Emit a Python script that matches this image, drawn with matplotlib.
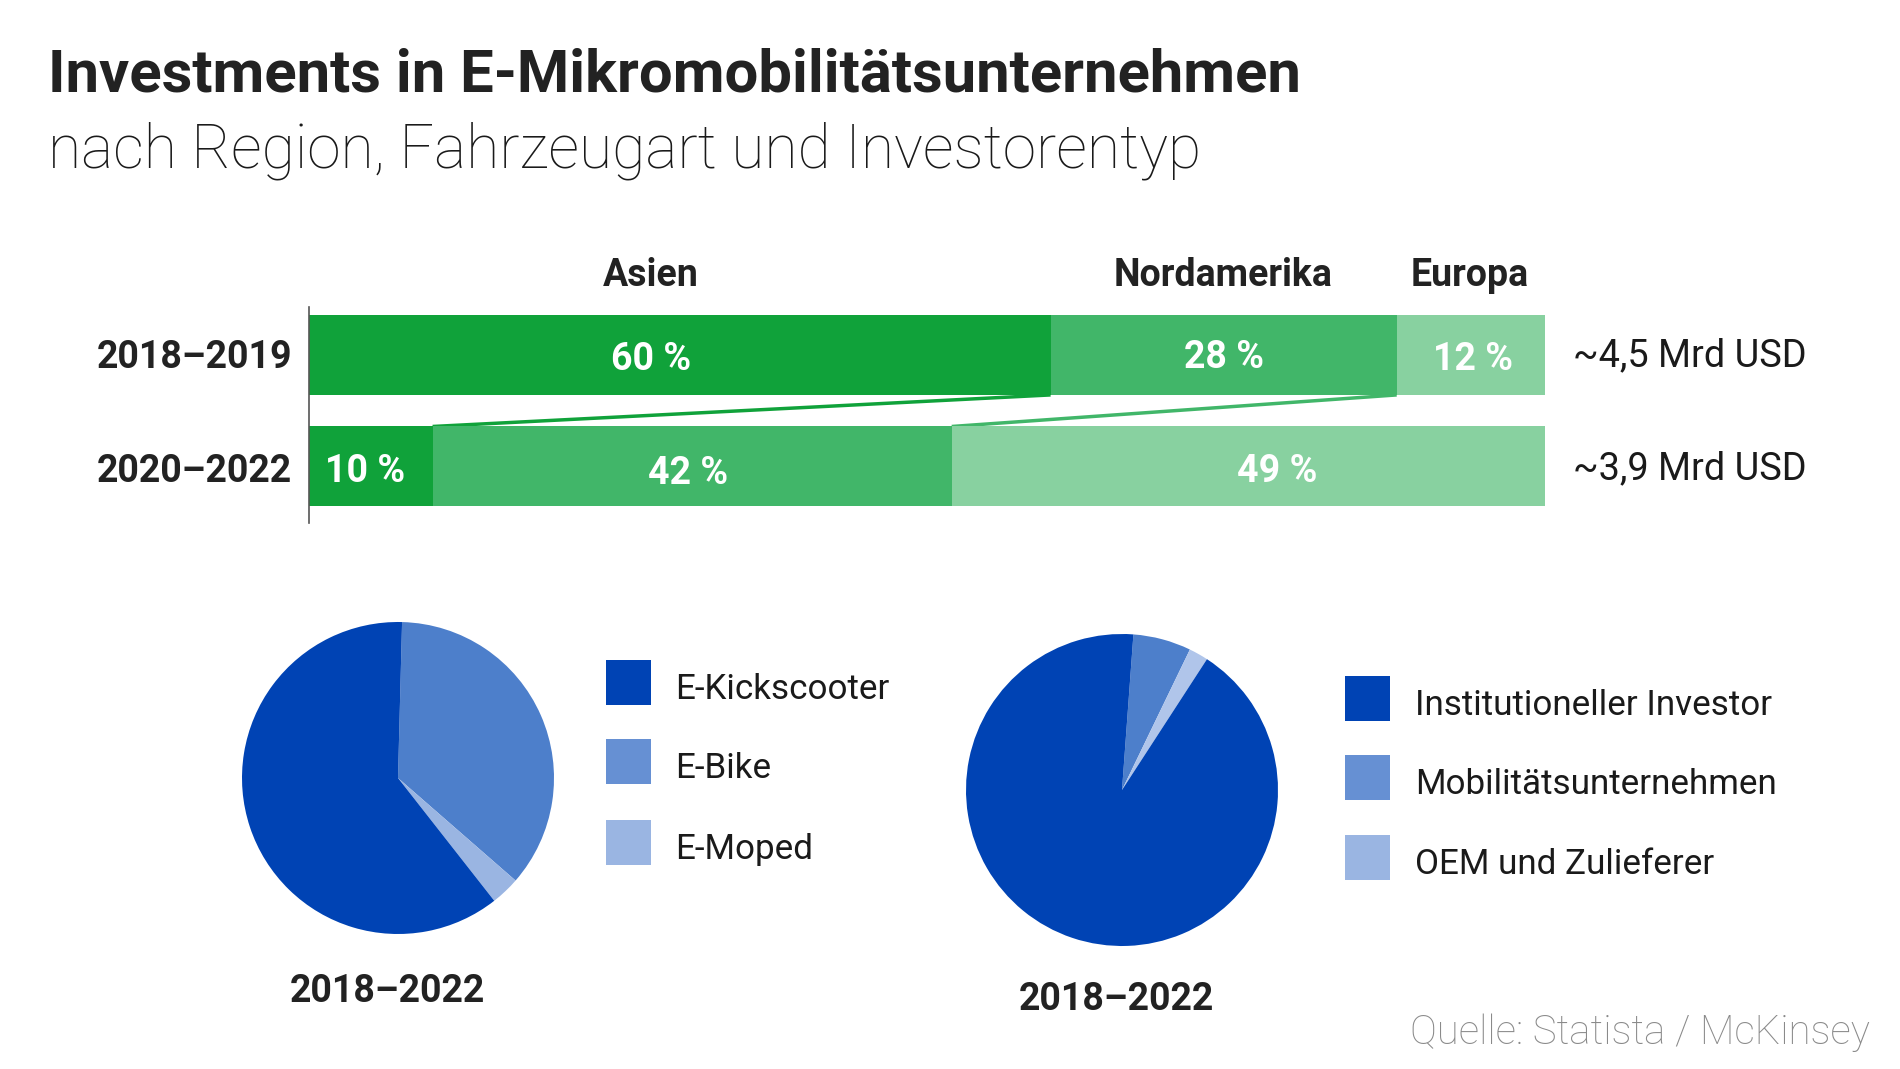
import matplotlib
matplotlib.use("Agg")
import matplotlib.pyplot as plt
from matplotlib.patches import Rectangle

# ---------------- data ----------------
periods = ["2018–2019", "2020–2022"]
regions = ["Asien", "Nordamerika", "Europa"]
region_shares = {
    "2018–2019": [60, 28, 12],
    "2020–2022": [10, 42, 49],
}
totals = ["~4,5 Mrd USD", "~3,9 Mrd USD"]

vehicle_types = ["E-Kickscooter", "E-Bike", "E-Moped"]
vehicle_shares = [61, 36, 3]

investor_types = ["Institutioneller Investor", "Mobilitätsunternehmen", "OEM und Zulieferer"]
investor_shares = [92, 6, 2]

pie_period = "2018–2022"
source = "Quelle: Statista / McKinsey"
title = "Investments in E-Mikromobilitätsunternehmen"
subtitle = "nach Region, Fahrzeugart und Investorentyp"

# ---------------- style ----------------
W, H = 1900, 1069
greens = ["#10a23a", "#41b669", "#88d1a0"]
blues = ["#0043b4", "#4d7fcb", "#9ab5e2"]
blues_legend = ["#0043b4", "#6690d3", "#9ab5e2"]
dark = "#222222"
FONT = "Roboto"

fig = plt.figure(figsize=(W / 100, H / 100), dpi=100)
fig.patch.set_facecolor("white")


def fx(x):
    return x / W


def fy(y):
    return 1 - y / H


def ftext(x, y, s, **kw):
    kw.setdefault("family", FONT)
    kw.setdefault("color", dark)
    fig.text(fx(x), fy(y), s, **kw)


# titles
ftext(48, 92, title, fontsize=43, weight="bold", va="baseline", ha="left")
ftext(48, 167, subtitle, fontsize=43.6, weight="light", va="baseline", ha="left", color="#1a1a1a")

# ---------------- stacked bars ----------------
ax_top, ax_bot, ax_left, ax_right = 307, 523, 309, 1545
ax = fig.add_axes([fx(ax_left), fy(ax_bot), (ax_right - ax_left) / W, (ax_bot - ax_top) / H])
ax.set_xlim(0, 100)
ax.set_ylim(1.507, -0.43)
bar_h = 0.717
for i, p in enumerate(periods):
    left = 0
    for j, v in enumerate(region_shares[p]):
        ax.barh(i, v, left=left, height=bar_h, color=greens[j], edgecolor="none", zorder=2)
        left += v

# connecting lines between region boundaries
for j in range(2):
    x0 = sum(region_shares[periods[0]][: j + 1])
    x1 = sum(region_shares[periods[1]][: j + 1])
    ax.plot([x0, x1], [0 + bar_h / 2, 1 - bar_h / 2], color=greens[j], lw=2.5,
            solid_capstyle="butt", zorder=1)

for s in ["top", "right", "bottom"]:
    ax.spines[s].set_visible(False)
ax.spines["left"].set_color("#555555")
ax.spines["left"].set_linewidth(1.2)
ax.set_xticks([])
ax.set_yticks([])
ax.patch.set_alpha(0)

# percentage labels (x offsets in pixel from segment center)
label_offsets = {
    "2018–2019": [-29, 0, 2],
    "2020–2022": [-6, -4, 29],
}
label_dy = {
    "2018–2019": [4, 3, 4],
    "2020–2022": [3, 6, 3],
}
x_scale = (ax_right - ax_left) / 100
bar_y_px = [355, 468]
for i, p in enumerate(periods):
    left = 0
    for j, v in enumerate(region_shares[p]):
        c = left + min(v, 100 - left) / 2
        px = ax_left + c * x_scale + label_offsets[p][j]
        ftext(px, bar_y_px[i] + label_dy[p][j], f"{v} %", fontsize=27, weight="bold",
              color="white", ha="center", va="center")
        left += v
    ftext(292, bar_y_px[i] + 3, p, fontsize=27, weight="bold", ha="right", va="center")
    ftext(1573, bar_y_px[i] + 1, totals[i], fontsize=27.3, ha="left", va="center", color="#1a1a1a")

# region headers
header_px = [651, 1223, 1470]
for r, hx in zip(regions, header_px):
    ftext(hx, 286, r, fontsize=27, weight="bold", ha="center", va="baseline")

# ---------------- pies ----------------
def draw_pie(cx, cy, r, values, colors, startangle):
    a = fig.add_axes([fx(cx - r), fy(cy + r), 2 * r / W, 2 * r / H])
    a.pie(values, colors=colors, startangle=startangle, counterclock=False, radius=1,
          wedgeprops=dict(edgecolor="none"))
    a.set_xlim(-1, 1)
    a.set_ylim(-1, 1)
    a.set_aspect("equal")
    a.axis("off")


# pie 1: clockwise from top: E-Bike, E-Moped, E-Kickscooter
draw_pie(398, 778, 156,
         [vehicle_shares[1], vehicle_shares[2], vehicle_shares[0]],
         [blues[1], blues[2], blues[0]], 88.5)
# pie 2: clockwise from top: Mobilität, OEM, Institutionell
draw_pie(1122, 790, 156,
         [investor_shares[1], investor_shares[2], investor_shares[0]],
         [blues[1], "#b0c5ea", blues[0]], 85.8)

ftext(387, 991, pie_period, fontsize=27, weight="bold", ha="center", va="center")
ftext(1116, 999, pie_period, fontsize=27, weight="bold", ha="center", va="center")


def legend(x_sq, y_tops, x_txt, labels, colors, size=45):
    for yt, lab, col in zip(y_tops, labels, colors):
        fig.patches.append(Rectangle((fx(x_sq), fy(yt + size)), size / W, size / H,
                                     transform=fig.transFigure, facecolor=col,
                                     edgecolor="none"))
        ftext(x_txt, yt + size / 2 + 7, lab, fontsize=25.2, ha="left", va="center", color="#1a1a1a")


legend(606, [660, 739, 820], 675, vehicle_types, blues_legend)
legend(1345, [676, 755, 835], 1415, investor_types, blues_legend)

# source
ftext(1870, 1033, source, fontsize=29, weight="light", ha="right", va="center", color="#8a8a8a")

fig.savefig("out.png", dpi=100, facecolor="white")
